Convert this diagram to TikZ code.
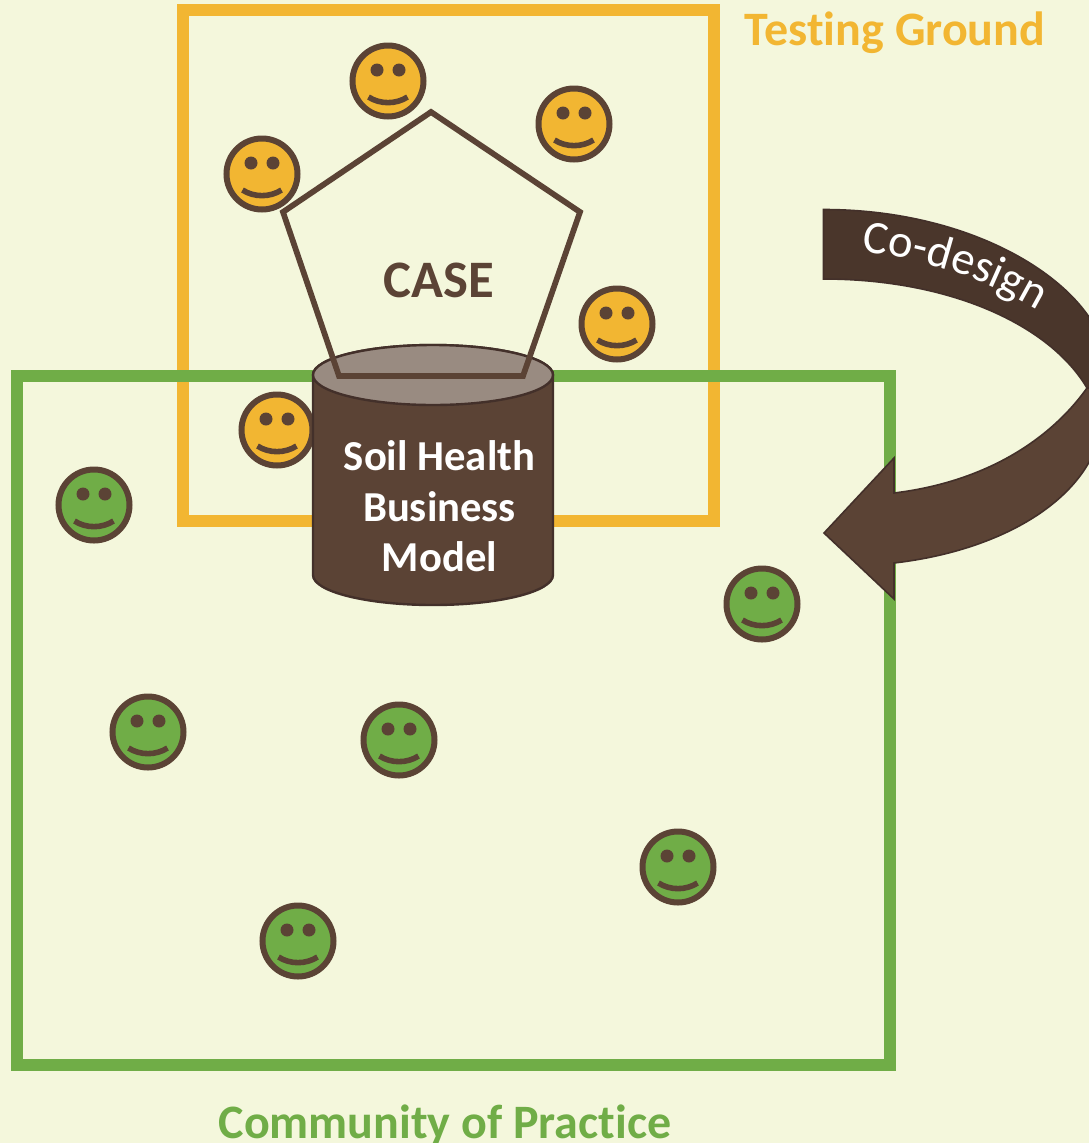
\documentclass[tikz,border=0pt]{standalone}
\usepackage{fontspec}
\setmainfont[Ligatures=NoCommon]{Carlito}
\usetikzlibrary{decorations.text}
\definecolor{bgc}{HTML}{F4F7DC}
\definecolor{orangec}{HTML}{F2B632}
\definecolor{greenc}{HTML}{70AD47}
\definecolor{brownc}{HTML}{5B4335}
\definecolor{darkb}{HTML}{4A362B}
\definecolor{edgeb}{HTML}{43302A}
\definecolor{topc}{HTML}{998B81}
\tikzset{
  x=0.75pt,y=-0.75pt,
  frame/.style={draw=#1,line width=9pt,fill=none,miter limit=10},
  smiley/.pic={
    \node[circle,draw=brownc,fill=#1,line width=4.5pt,minimum size=53.25pt,inner sep=0pt] (-face) at (0,0) {};
    \node[circle,fill=brownc,minimum size=9.75pt,inner sep=0pt] (-eyel) at (-11,-11) {};
    \node[circle,fill=brownc,minimum size=9.75pt,inner sep=0pt] (-eyer) at (11,-11) {};
    \draw[brownc,line width=4.2pt] (-19.5,16) .. controls (-8,23.5) and (8,23.5) .. (19.5,16);
  },
  lbl/.style={font=\bfseries\fontsize{36pt}{43pt}\selectfont,inner sep=0pt,align=center},
  arrowedge/.style={draw=edgeb,line width=1.2pt,line join=miter}
}
\begin{document}
\begin{tikzpicture}
\useasboundingbox (0,0) rectangle (1089,1143);
\clip (0,0) rectangle (1089,1143);
\fill[bgc] (0,0) rectangle (1089,1143);
% frames
\draw[frame=orangec] (183,10) rectangle (714,521);
\draw[frame=greenc] (17,375.5) rectangle (890,1065);
% smileys
\pic (o1) at (388,81) {smiley=orangec};
\pic (o2) at (574,124) {smiley=orangec};
\pic (o3) at (262,174) {smiley=orangec};
\pic (o4) at (617,324) {smiley=orangec};
\pic (o5) at (277,430) {smiley=orangec};
\pic (g1) at (94,505) {smiley=greenc};
\pic (g2) at (762,604) {smiley=greenc};
\pic (g3) at (148,732) {smiley=greenc};
\pic (g4) at (399,740) {smiley=greenc};
\pic (g5) at (678,867) {smiley=greenc};
\pic (g6) at (298,941) {smiley=greenc};
% cylinder
\path[fill=brownc,draw=edgeb,line width=1.8pt] (313,375) -- (313,575) arc[start angle=180,end angle=360,x radius=120,y radius=-30] -- (553,375) arc[start angle=0,end angle=180,x radius=120,y radius=-30] -- cycle;
\path[fill=topc,draw=edgeb,line width=1.8pt] (433,375) ellipse[x radius=120,y radius=30];
% pentagon
\draw[brownc,line width=4.3pt,miter limit=10] (431,112) -- (580,212) -- (523,376) -- (339,376) -- (283,212) -- cycle;
% labels
\node[lbl,text=brownc,font=\bfseries\fontsize{39.5pt}{47pt}\selectfont] (case) at (439,280) {CASE};
\node[lbl,text=orangec] (tg) at (895,32.5) {Testing Ground};
\node[lbl,text=greenc] (cop) at (445,1125) {Community of Practice};
\node[lbl,text=white,font=\bfseries\fontsize{32pt}{38pt}\selectfont] (shbm) at (439.5,506.5) {Soil Health\\Business\\Model};
% curved arrow
\path[fill=brownc,arrowedge] (1087,388) .. controls (1050,440) and (985,482) .. (894,493) -- (894,458) -- (824,533) -- (894,599) -- (894,563) .. controls (990,552) and (1070,510) .. (1095,450) -- (1095,388) -- cycle;
\path[fill=darkb,arrowedge] (823.5,209.5) .. controls (950,209.5) and (1050,260) .. (1089,317) -- (1095,388) -- (1087,388) .. controls (1050,325) and (950,279) .. (823.5,279) -- cycle;
\path[postaction={decorate},decoration={text along path,text align=center,text={|\fontsize{35pt}{41pt}\selectfont\color{white}|Co-design}}] (849,250) .. controls (927,258) and (987,279) .. (1049,317);
\end{tikzpicture}
\end{document}
